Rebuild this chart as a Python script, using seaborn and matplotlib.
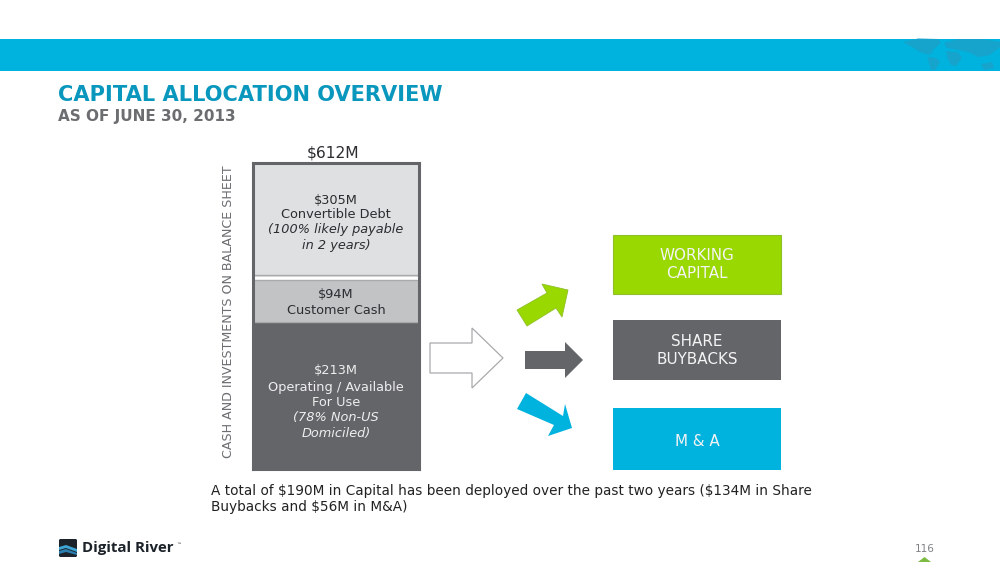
# capital_allocation.py

import numpy as np
import pandas as pd
import matplotlib.pyplot as plt
from matplotlib.patches import Polygon, Rectangle, FancyBboxPatch
import seaborn as sns

# --- Data ---
segments = ["Operating", "Customer Cash", "Convertible Debt"]
amounts = [213, 94, 305]
total = 612
segment_colors = ["#636569", "#c2c3c5", "#dfe0e2"]

operating_lines = ["$213M", "Operating / Available", "For Use"]
operating_notes = ["(78% Non-US", "Domiciled)"]
customer_lines = ["$94M", "Customer Cash"]
debt_lines = ["$305M", "Convertible Debt"]
debt_notes = ["(100% likely payable", "in 2 years)"]
side_label = "CASH AND INVESTMENTS ON BALANCE SHEET"
uses = [["WORKING", "CAPITAL"], ["SHARE", "BUYBACKS"], ["M & A"]]
title = "CAPITAL ALLOCATION OVERVIEW"
subtitle = "AS OF JUNE 30, 2013"
footnote = ["A total of $190M in Capital has been deployed over the past two years ($134M in Share",
            "Buybacks and $56M in M&A)"]
page_number = "116"

# The slide does not draw the stack to scale: the axis is piecewise,
# these are the heights in pixels of the cumulative amounts
stack_knots = [0, 147, 190, 308]

W, H = 1000, 577
DARK = "#636569"
CYAN = "#00b2de"
GREEN = "#99d800"


def px_text(fig, x, y, s, **kwargs):
    kwargs.setdefault("ha", "center")
    kwargs.setdefault("va", "center")
    kwargs.setdefault("color", "#2b2d30")
    kwargs.setdefault("parse_math", False)
    return fig.text(x / W, 1 - y / H, s, **kwargs)


def draw_background(bg):
    # --- Banner ---
    bg.add_patch(Rectangle((0, 38.5), W, 32.5, color=CYAN, lw=0))
    land = [
        [(903, 42), (918, 38.5), (938, 39), (941, 43), (934, 49), (930, 55), (922, 53), (912, 47)],
        [(927, 57), (936, 58), (940, 62), (935, 70), (931, 70), (929, 63)],
        [(944, 43), (958, 39), (982, 39), (1000, 42), (1000, 47), (990, 55), (978, 57), (968, 52), (958, 50), (947, 48)],
        [(946, 51), (958, 52), (962, 58), (956, 66), (951, 65), (947, 57)],
        [(981, 64), (992, 62), (994, 68), (984, 70)],
    ]
    for pts in land:
        bg.add_patch(Polygon(pts, color="#17a4cc", lw=0))

    # --- Use boxes ---
    bg.add_patch(Rectangle((613, 235), 168, 59, fc=GREEN, ec="#8fbf2a", lw=0.8))
    bg.add_patch(Rectangle((613, 320), 168, 60, fc=DARK, lw=0))
    bg.add_patch(Rectangle((613, 408), 168, 62, fc=CYAN, lw=0))

    # --- Arrows ---
    white_arrow = [(430, 343), (472, 343), (472, 328), (503, 358), (472, 388), (472, 373), (430, 373)]
    grey_arrow = [(525, 351), (565, 351), (565, 342), (583, 360), (565, 378), (565, 369), (525, 369)]
    green_arrow = [(517, 310), (547, 293), (542, 284), (568, 290), (562, 317), (556, 308), (527, 326)]
    blue_arrow = [(526, 393), (563, 416), (565, 404), (572, 428), (548, 436), (554, 425), (517, 409)]
    bg.add_patch(Polygon(white_arrow, fc="white", ec="#a9aaac", lw=0.9))
    bg.add_patch(Polygon(grey_arrow, fc=DARK, lw=0))
    bg.add_patch(Polygon(green_arrow, fc=GREEN, ec="#8fbf2a", lw=0.6))
    bg.add_patch(Polygon(blue_arrow, fc=CYAN, lw=0))

    # --- Logo and page marker ---
    bg.add_patch(FancyBboxPatch((60, 540), 16, 16, boxstyle="round,pad=1,rounding_size=1.5",
                                color="#1c2229", lw=0))
    bg.add_patch(Polygon([(59, 547), (66, 545), (77, 549), (77, 552), (66, 548), (59, 550)], color="#3ea6d6", lw=0))
    bg.add_patch(Polygon([(59, 551), (66, 549), (77, 553), (77, 555), (66, 552), (59, 554)], color="#2a7fb0", lw=0))
    bg.add_patch(Polygon([(918, 562), (924.5, 557), (931, 562)], color="#7dbb42", lw=0))


def draw_stack(ax):
    cumulative = np.cumsum(amounts)
    values = np.concatenate([[0], cumulative])

    def forward(v):
        return np.interp(v, values, stack_knots)

    def inverse(p):
        return np.interp(p, stack_knots, values)

    ax.set_yscale("function", functions=(forward, inverse))

    # Tallest first so each lower segment paints over the one before it
    for name, top, color in reversed(list(zip(segments, cumulative, segment_colors))):
        df = pd.DataFrame({"group": ["cash"], "amount": [top]})
        sns.barplot(data=df, x="group", y="amount", color=color, saturation=1,
                    width=1, ax=ax, linewidth=0)
    ax.set_ylim(0, total)
    ax.set_xlim(-0.5, 0.5)
    ax.set(xlabel=None, ylabel=None, xticks=[], yticks=[])

    # Rules round the customer cash segment and the white gap above it
    ax.axhline(inverse(stack_knots[2] + 2.0), color="white", lw=2.2)
    ax.axhline(inverse(stack_knots[2] + 4.5), color="#a9aaac", lw=1.0)
    ax.axhline(inverse(stack_knots[2] - 0.5), color="#a9aaac", lw=1.0)
    ax.axhline(inverse(stack_knots[1] + 0.5), color="#a9aaac", lw=1.0)

    for side in ax.spines.values():
        side.set_visible(True)
        side.set_color(DARK)
        side.set_linewidth(2.2)


def draw_text(fig):
    px_text(fig, 58, 95, title, ha="left", fontsize=15.1, fontweight="bold", color="#0a97bd")
    px_text(fig, 58, 116, subtitle, ha="left", fontsize=11, fontweight="bold", color="#6b6d70")
    px_text(fig, 333, 153, f"${total}M", fontsize=11.2)
    px_text(fig, 229, 312, side_label, rotation=90, fontsize=9.1, color="#6b6d70")

    for y, s in zip([200, 214], debt_lines):
        px_text(fig, 336, y, s, fontsize=9.3)
    for y, s in zip([230, 245], debt_notes):
        px_text(fig, 336, y, s, fontsize=9.3, style="italic")
    for y, s in zip([295, 310], customer_lines):
        px_text(fig, 336, y, s, fontsize=9.3)
    for y, s in zip([371, 387, 402], operating_lines):
        px_text(fig, 336, y, s, fontsize=9.3, color="#eeeeee")
    for y, s in zip([418, 433], operating_notes):
        px_text(fig, 336, y, s, fontsize=9.3, style="italic", color="#eeeeee")

    for ys, lines in zip([[256, 274], [342, 360], [442]], uses):
        for y, s in zip(ys, lines):
            px_text(fig, 697, y, s, fontsize=10.9, color="#f4f4f4")

    for y, s in zip([491, 507], footnote):
        px_text(fig, 211, y, s, ha="left", fontsize=9.8, color="#222222")

    px_text(fig, 924.5, 549, page_number, fontsize=7.6, color="#808285")
    px_text(fig, 82, 548, "Digital River", ha="left", fontsize=10.8, fontweight="bold",
            family="Open Sans", color="#1c2229")
    px_text(fig, 176, 545, "\u2122", ha="left", fontsize=3.5, color="#1c2229")


def main():
    sns.set_theme(style="white")

    fig = plt.figure(figsize=(W / 100, H / 100), dpi=100)

    # --- Slide layer in pixel coordinates ---
    bg = fig.add_axes([0, 0, 1, 1])
    bg.set_xlim(0, W)
    bg.set_ylim(H, 0)
    bg.axis("off")
    draw_background(bg)

    # --- Stacked bar ---
    ax = fig.add_axes([253 / W, 1 - 469 / H, 166 / W, 306.5 / H])
    draw_stack(ax)

    draw_text(fig)

    fig.savefig("out.png", dpi=100)


if __name__ == "__main__":
    main()
